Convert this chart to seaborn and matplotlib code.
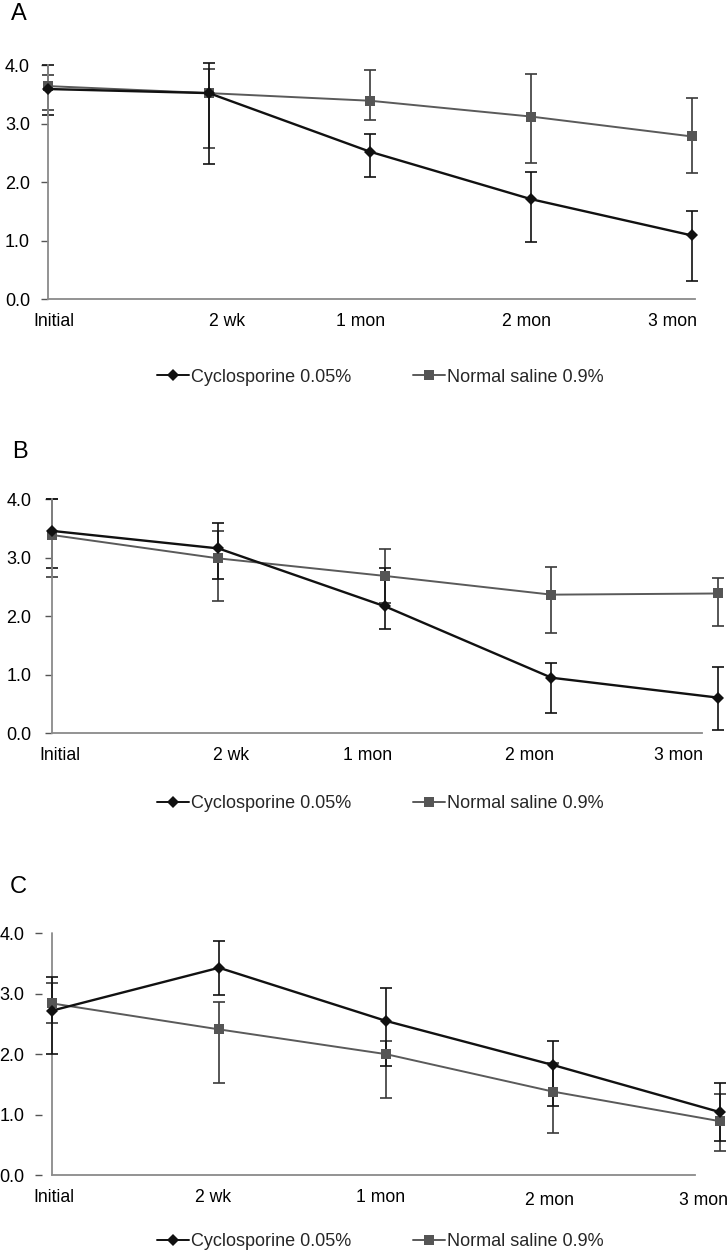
import matplotlib
matplotlib.use("Agg")
import matplotlib.pyplot as plt
import seaborn as sns
import numpy as np
from matplotlib.transforms import ScaledTranslation, blended_transform_factory
from matplotlib.lines import Line2D

sns.set_theme(style="white")
plt.rcParams['font.family'] = ['Liberation Sans', 'DejaVu Sans']

# ---------------- data ----------------
time_labels = ["Initial", "2 wk", "1 mon", "2 mon", "3 mon"]
series_names = ["Cyclosporine 0.05%", "Normal saline 0.9%"]

A_cyc = [3.59, 3.52, 2.52, 1.71, 1.09]
A_cyc_lo = [3.14, 2.31, 2.09, 0.98, 0.32]
A_cyc_hi = [4.00, 4.04, 2.83, 2.18, 1.51]
A_sal = [3.64, 3.52, 3.39, 3.12, 2.78]
A_sal_lo = [3.23, 2.58, 3.06, 2.32, 2.16]
A_sal_hi = [3.83, 3.93, 3.91, 3.84, 3.43]

B_cyc = [3.46, 3.16, 2.17, 0.95, 0.61]
B_cyc_lo = [2.82, 2.64, 1.78, 0.34, 0.06]
B_cyc_hi = [4.00, 3.59, 2.82, 1.21, 1.14]
B_sal = [3.39, 2.99, 2.69, 2.37, 2.39]
B_sal_lo = [2.67, 2.27, 2.22, 1.72, 1.84]
B_sal_hi = [4.00, 3.46, 3.15, 2.85, 2.66]

C_cyc = [2.72, 3.43, 2.55, 1.82, 1.04]
C_cyc_lo = [2.01, 2.98, 1.81, 1.15, 0.57]
C_cyc_hi = [3.28, 3.88, 3.09, 2.22, 1.53]
C_sal = [2.84, 2.41, 2.00, 1.38, 0.89]
C_sal_lo = [2.51, 1.53, 1.28, 0.69, 0.40]
C_sal_hi = [3.18, 2.86, 2.21, 1.86, 1.34]

y_ticks = [0.0, 1.0, 2.0, 3.0, 4.0]
y_ticklabels = ["0.0", "1.0", "2.0", "3.0", "4.0"]
panel_letters = ["A", "B", "C"]

# ---------------- layout / style ----------------
W, H = 728, 1255
fig = plt.figure(figsize=(W / 100, H / 100), dpi=100)

CYC_COLOR = "#111111"
SAL_COLOR = "#5a5a5a"
SAL_ERR = "#3a3a3a"
AXIS_COLOR = "#8a8a8a"

panels = [
    dict(letter=panel_letters[0], cyc=(A_cyc, A_cyc_lo, A_cyc_hi), sal=(A_sal, A_sal_lo, A_sal_hi),
         rect=(48, 65, 695, 299.3), xmax=4.019, ypad=8, detached=False,
         lab_off=[(6, 0), (18, 0), (-9, 0), (-4, 0), (-19, 0)],
         letter_xy=(11, 14), legend_y=377),
    dict(letter=panel_letters[1], cyc=(B_cyc, B_cyc_lo, B_cyc_hi), sal=(B_sal, B_sal_lo, B_sal_hi),
         rect=(52, 499.3, 702, 733.3), xmax=3.904, ypad=10, detached=False,
         lab_off=[(8, 0), (13, 0), (-17, 0), (-22, 0), (-39, 0)],
         letter_xy=(12, 452), legend_y=804),
    dict(letter=panel_letters[2], cyc=(C_cyc, C_cyc_lo, C_cyc_hi), sal=(C_sal, C_sal_lo, C_sal_hi),
         rect=(52, 933.3, 695, 1175), xmax=3.850, ypad=8, detached=True,
         lab_off=[(2, 0), (-6, 0), (-5, 0), (-4, -3), (-17, -3)],
         letter_xy=(10, 887), legend_y=1242),
]

xpos = np.arange(len(time_labels))
XLAB_PAD_PX = 14

for p in panels:
    x0, y0, x1, y1 = p["rect"]
    ax = fig.add_axes([x0 / W, 1 - y1 / H, (x1 - x0) / W, (y1 - y0) / H])
    ax.set_facecolor("white")

    cyc, cyc_lo, cyc_hi = p["cyc"]
    sal, sal_lo, sal_hi = p["sal"]

    # error bars
    for vals, lo, hi, col in [(sal, sal_lo, sal_hi, SAL_ERR), (cyc, cyc_lo, cyc_hi, CYC_COLOR)]:
        v = np.array(vals)
        err = np.vstack([v - np.array(lo), np.array(hi) - v])
        eb = ax.errorbar(xpos, v, yerr=err, fmt="none", ecolor=col, elinewidth=1.2,
                         capsize=4.5, capthick=1.2, zorder=2)
        for art in eb.get_children():
            art.set_clip_on(False)

    # lines with markers
    sns.lineplot(x=xpos, y=sal, ax=ax, color=SAL_COLOR, lw=1.4, marker="s", markersize=6.5,
                 markeredgewidth=0, markerfacecolor="#555555", label=series_names[1],
                 legend=False, zorder=3, clip_on=False)
    sns.lineplot(x=xpos, y=cyc, ax=ax, color=CYC_COLOR, lw=1.7, marker="D", markersize=6.3,
                 markeredgewidth=0, markerfacecolor=CYC_COLOR, label=series_names[0],
                 legend=False, zorder=4, clip_on=False)

    ax.set_yticks(y_ticks)
    ax.set_yticklabels(y_ticklabels)
    ax.set_xticks([])
    ax.set_xlim(0, p["xmax"])
    ax.set_ylim(0, 4.0)
    ax.set_xlabel("")
    ax.set_ylabel("")

    for s in ["top", "right"]:
        ax.spines[s].set_visible(False)
    ax.spines["bottom"].set_color(AXIS_COLOR)
    ax.spines["bottom"].set_linewidth(1.3)
    ax.spines["left"].set_color(AXIS_COLOR)
    ax.spines["left"].set_linewidth(1.3)

    ax.tick_params(axis="y", length=5, width=1.0, color="#555555", direction="out",
                   pad=p["ypad"], labelsize=13, labelcolor="black", left=True)

    if p["detached"]:
        ax.spines["left"].set_position(("outward", 7))
        ax.spines["left"].set_color("none")
        ax.axvline(0, color=AXIS_COLOR, lw=1.3, clip_on=False, zorder=1)

    # category labels below the axis (placed at category positions, with small offsets)
    btrans = blended_transform_factory(ax.transData, ax.transAxes)
    for xi, lab, (dx, dy) in zip(xpos, time_labels, p["lab_off"]):
        tr = btrans + ScaledTranslation(dx / 100, (dy - XLAB_PAD_PX) / 100, fig.dpi_scale_trans)
        ax.text(xi, 0, lab, transform=tr, ha="center", va="top", fontsize=12.7,
                color="black", clip_on=False)

    # panel letter
    lx, ly = p["letter_xy"]
    fig.text(lx / W, 1 - ly / H, p["letter"], fontsize=17, ha="left", va="center", color="black")

    # legend
    handles = [
        Line2D([], [], color=CYC_COLOR, lw=1.4, marker="D", markersize=6.3, markeredgewidth=0),
        Line2D([], [], color=SAL_COLOR, lw=1.4, marker="s", markersize=6.5, markeredgewidth=0,
               markerfacecolor="#555555"),
    ]
    ax.legend(handles, series_names, loc="center", bbox_to_anchor=(380 / W, 1 - p["legend_y"] / H),
              bbox_transform=fig.transFigure, ncol=2, frameon=False, fontsize=13,
              handlelength=1.8, handletextpad=0.1, columnspacing=3.4, borderpad=0)

fig.savefig("out.png", dpi=100, facecolor="white")
